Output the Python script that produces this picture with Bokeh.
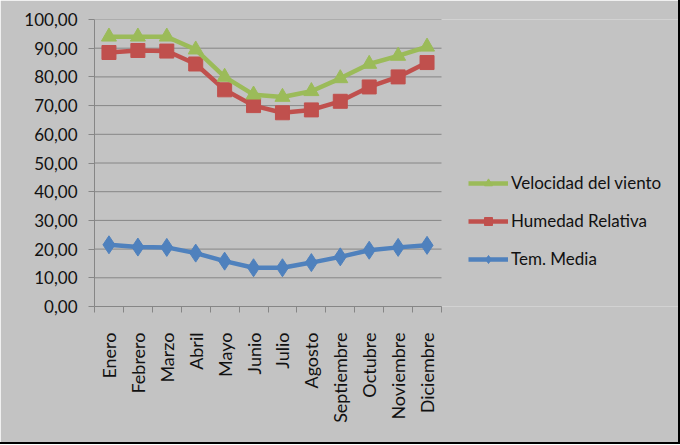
import math
from bokeh.plotting import figure
from bokeh.models import FixedTicker, Legend, LegendItem, Range1d
from bokeh.embed import file_html
from bokeh.resources import INLINE

months = ["Enero", "Febrero", "Marzo", "Abril", "Mayo", "Junio", "Julio",
          "Agosto", "Septiembre", "Octubre", "Noviembre", "Diciembre"]
velocidad = [94.0, 94.0, 94.0, 89.5, 80.0, 73.8, 73.0, 75.0, 79.5, 84.5, 87.3, 90.5]
humedad = [88.5, 89.2, 89.0, 84.5, 75.5, 70.0, 67.5, 68.5, 71.5, 76.5, 80.0, 85.0]
temp = [21.5, 20.7, 20.6, 18.6, 15.8, 13.5, 13.5, 15.3, 17.3, 19.6, 20.6, 21.3]
y_ticks = [0, 10, 20, 30, 40, 50, 60, 70, 80, 90, 100]
y_labels = ["0,00", "10,00", "20,00", "30,00", "40,00", "50,00", "60,00",
            "70,00", "80,00", "90,00", "100,00"]

FONT = "Lato"
BG = "#c3c3c3"
GRID = "#868686"
n = len(months)
xs = [i + 0.5 for i in range(n)]

W, H = 678, 442
LEFT, TOP = 94, 19
BOTTOM = H - 306
PLOT_W = 347  # width of the drawn category area in px
frame_w = W - LEFT
x_end = n * frame_w / PLOT_W

p = figure(width=W, height=H, output_backend="svg", toolbar_location=None,
           x_range=Range1d(0, x_end), y_range=Range1d(0, 100),
           min_border_left=LEFT, min_border_right=0, min_border_top=TOP,
           min_border_bottom=BOTTOM)
p.background_fill_color = BG
p.border_fill_color = BG
p.outline_line_color = None
p.styles = {"outline": "2px solid black"}

# axes
p.xaxis.ticker = FixedTicker(ticks=xs, minor_ticks=list(range(n + 1)))
p.xaxis.bounds = (0, n)
p.xaxis.major_label_overrides = {x: m for x, m in zip(xs, months)}
p.xaxis.major_label_orientation = math.pi / 2
p.xaxis.major_tick_line_color = None
p.xaxis.minor_tick_in = 0
p.xaxis.minor_tick_out = 6
p.xaxis.minor_tick_line_color = GRID
p.xaxis.major_label_standoff = 20
p.yaxis.ticker = FixedTicker(ticks=y_ticks)
p.yaxis.major_label_overrides = {t: l for t, l in zip(y_ticks, y_labels)}
p.yaxis.minor_tick_line_color = None
p.yaxis.major_tick_in = 0
p.yaxis.major_tick_out = 6
p.yaxis.major_tick_line_color = GRID
p.yaxis.major_label_standoff = 11
for ax in (p.xaxis, p.yaxis):
    ax.axis_line_color = GRID
    ax.major_label_text_font = FONT
    ax.major_label_text_color = "#111111"
p.yaxis.major_label_text_font_size = "17px"
p.xaxis.major_label_text_font_size = "18px"

p.xgrid.grid_line_color = None
p.ygrid.grid_line_color = None
# horizontal gridlines limited to the category area
p.segment(x0=[0] * len(y_ticks), x1=[n] * len(y_ticks), y0=y_ticks, y1=y_ticks,
          line_color=GRID, line_width=1)

GREEN, RED, BLUE = "#9bbb59", "#c0504d", "#4f81bd"
lw = 4.5

lt = p.line(xs, temp, line_color=BLUE, line_width=lw)
st = p.scatter(xs, temp, marker="diamond", size=18, fill_color=BLUE, line_color=BLUE)
lh = p.line(xs, humedad, line_color=RED, line_width=lw)
sh = p.scatter(xs, humedad, marker="square", size=14, fill_color=RED, line_color=RED)
lv = p.line(xs, velocidad, line_color=GREEN, line_width=lw)
sv = p.scatter(xs, velocidad, marker="triangle", size=15, fill_color=GREEN, line_color=GREEN)

legend = Legend(items=[
    LegendItem(label="Velocidad del viento", renderers=[lv, sv]),
    LegendItem(label="Humedad Relativa", renderers=[lh, sh]),
    LegendItem(label="Tem. Media", renderers=[lt, st]),
], location=(374, 37))
legend.background_fill_alpha = 0
legend.border_line_color = None
legend.padding = 0
legend.margin = 0
legend.spacing = 17
legend.glyph_width = 40
legend.glyph_height = 20
legend.label_height = 20
legend.label_standoff = 3
legend.label_text_font = FONT
legend.label_text_font_size = "17px"
legend.label_text_color = "#111111"
p.add_layout(legend, "center")

open("out.html", "w").write(file_html(p, INLINE))
